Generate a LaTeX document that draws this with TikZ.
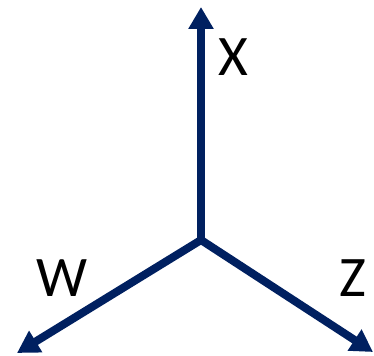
\documentclass[tikz,border=0pt]{standalone}
\usepackage{fontspec}
\setmainfont{Carlito}
\usetikzlibrary{
  arrows.meta
}
\definecolor{axisnavy}{HTML}{002060}
\tikzset{
  frame axis/.style={
    draw=axisnavy,
    line width=6pt,
    -{Triangle[length=16.5pt,width=18pt]}
  },
  axis label/.style={
    font=\fontsize{43}{50}\selectfont,
    text=black,
    inner sep=0pt
  }
}
\begin{document}
\begin{tikzpicture}[x=0.75pt,y=-0.75pt]

    \useasboundingbox (0,0) rectangle (374,356);

    % 原点と軸の先端
    \coordinate (O) at (201,240);
    \coordinate (Xend) at (201,7);
    \coordinate (Wend) at (17,353);
    \coordinate (Zend) at (373,352);

    % 座標軸
    \draw[frame axis] (O) -- (Xend);
    \draw[frame axis] (O) -- (Wend);
    \draw[frame axis] (O) -- (Zend);

    % ラベル
    \node[axis label] (X) at (233,57) {X};
    \node[axis label] (W) at (62,278) {W};
    \node[axis label] (Z) at (353,278) {Z};

\end{tikzpicture}
\end{document}
